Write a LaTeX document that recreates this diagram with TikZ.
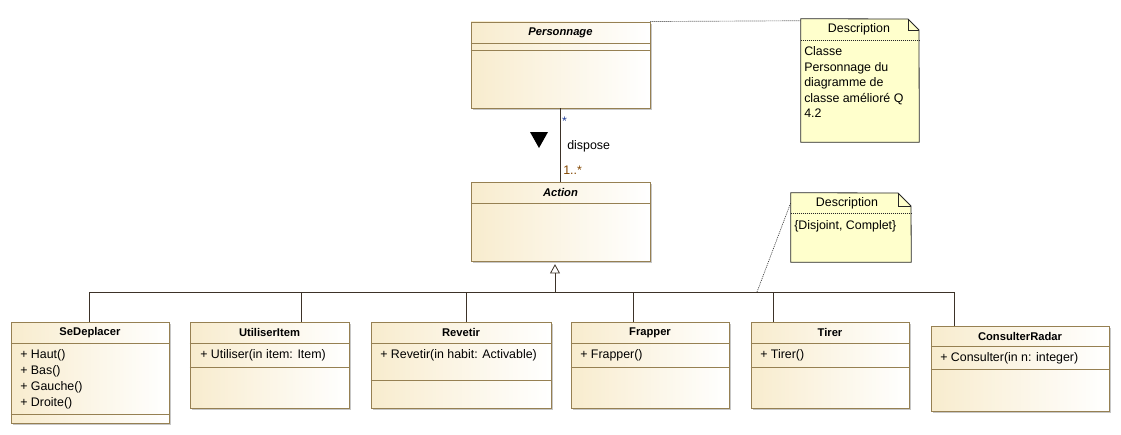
\documentclass[tikz,border=0pt]{standalone}
\usepackage{fontspec}
\setmainfont{Liberation Sans}
\usetikzlibrary{arrows.meta,shadows,positioning,fit}
\definecolor{classborder}{RGB}{150,128,82}
\definecolor{classfill}{RGB}{248,236,206}
\definecolor{notefill}{RGB}{255,255,204}
\definecolor{linecol}{RGB}{60,50,40}
\definecolor{multblue}{RGB}{30,60,150}
\definecolor{multorange}{RGB}{130,70,0}
\tikzset{
  classbox/.style={draw=classborder, line width=0.7pt, left color=classfill, right color=white, inner sep=0pt,
    drop shadow={shadow xshift=1.3pt, shadow yshift=-1.3pt, fill=black!22, opacity=1}},
  sepline/.style={draw=classborder, line width=0.7pt},
  ctitle/.style={font=\fontsize{8.4}{9.6}\selectfont\bfseries, inner sep=0pt},
  optext/.style={font=\fontsize{9.3}{11}\selectfont, inner sep=0pt, anchor=west},
  notebox/.style={inner sep=0pt},
  notedraw/.style={draw=black!85, line width=0.6pt, fill=notefill},
  notesep/.style={draw=black!85, line width=0.5pt, dash pattern=on 0.75pt off 0.75pt},
  notelink/.style={draw=black!80, line width=0.5pt, dash pattern=on 0.75pt off 0.75pt},
  notetext/.style={font=\fontsize{9.3}{11.6}\selectfont, inner sep=0pt, align=left, anchor=north west},
  conn/.style={draw=linecol, line width=0.6pt},
  mult/.style={font=\fontsize{9.3}{11}\selectfont, inner sep=0pt}
}
\begin{document}
\begin{tikzpicture}[x=0.75pt,y=-0.75pt]
\useasboundingbox (0,0) rectangle (1121,435);

% ---------- Personnage ----------
\node[classbox, fit={(471,22)(650,108)}] (pers) {};
\draw[sepline] (pers.west |- 0,43) -- (pers.east |- 0,43);
\draw[sepline] (pers.west |- 0,50) -- (pers.east |- 0,50);
\node[ctitle] (perst) at (560.5,33) {\itshape Personnage};

% ---------- Action ----------
\node[classbox, fit={(471,182)(650,261)}] (act) {};
\draw[sepline] (act.west |- 0,203) -- (act.east |- 0,203);
\node[ctitle] (actt) at (560.5,192.5) {\itshape Action};

% ---------- association ----------
\draw[conn] (pers.south) -- (act.north);
\node[mult, text=multblue] (m1) at (564.5,121) {*};
\node[mult, anchor=west] (disp) at (567,146) {dispose};
\node[mult, anchor=west, text=multorange] (m2) at (563,170) {1..*};
\fill[black] (530,132) -- (548,132) -- (539,148) -- cycle;

% ---------- subclasses ----------
\node[classbox, fit={(11,322)(169,423)}] (sedep) {};
\draw[sepline] (sedep.west |- 0,343) -- (sedep.east |- 0,343);
\draw[sepline] (sedep.west |- 0,414) -- (sedep.east |- 0,414);
\node[ctitle] (sedept) at (90,332.5) {SeDeplacer};
\node[optext] (sedep1) at (20,355) {+ Haut()};
\node[optext] (sedep2) at (20,371) {+ Bas()};
\node[optext] (sedep3) at (20,387) {+ Gauche()};
\node[optext] (sedep4) at (20,403) {+ Droite()};

\node[classbox, fit={(190,322)(349,408)}] (util) {};
\draw[sepline] (util.west |- 0,343) -- (util.east |- 0,343);
\draw[sepline] (util.west |- 0,367) -- (util.east |- 0,367);
\node[ctitle] (utilt) at (269.5,332.5) {UtiliserItem};
\node[optext] (util1) at (200,355) {+ Utiliser(in item: Item)};

\node[classbox, fit={(371,322)(551,408)}] (rev) {};
\draw[sepline] (rev.west |- 0,343) -- (rev.east |- 0,343);
\draw[sepline] (rev.west |- 0,380) -- (rev.east |- 0,380);
\node[ctitle] (revt) at (461,332.5) {Revetir};
\node[optext] (rev1) at (380,355) {+ Revetir(in habit: Activable)};

\node[classbox, fit={(571,322)(729,408)}] (frap) {};
\draw[sepline] (frap.west |- 0,343) -- (frap.east |- 0,343);
\draw[sepline] (frap.west |- 0,367) -- (frap.east |- 0,367);
\node[ctitle] (frapt) at (650,332.5) {Frapper};
\node[optext] (frap1) at (580,355) {+ Frapper()};

\node[classbox, fit={(751,322)(909,408)}] (tir) {};
\draw[sepline] (tir.west |- 0,343) -- (tir.east |- 0,343);
\draw[sepline] (tir.west |- 0,367) -- (tir.east |- 0,367);
\node[ctitle] (tirt) at (830,332.5) {Tirer};
\node[optext] (tir1) at (760,355) {+ Tirer()};

\node[classbox, fit={(931,326)(1109,411)}] (cons) {};
\draw[sepline] (cons.west |- 0,346) -- (cons.east |- 0,346);
\draw[sepline] (cons.west |- 0,369) -- (cons.east |- 0,369);
\node[ctitle] (const) at (1020,336) {ConsulterRadar};
\node[optext] (cons1) at (940,358.5) {+ Consulter(in n: integer)};

% ---------- generalization ----------
\coordinate (bus) at (555,292);
\draw[conn] (89,0 |- sedep.north) |- (bus);
\draw[conn] (301,0 |- util.north) |- (bus);
\draw[conn] (466,0 |- rev.north) |- (bus);
\draw[conn] (633,0 |- frap.north) |- (bus);
\draw[conn] (773,0 |- tir.north) |- (bus);
\draw[conn] (954,0 |- cons.north) |- (bus);
\draw[conn, -{Triangle[open, length=7pt, width=7.5pt, line width=0.6pt]}, shorten >=2pt] (bus) -- (act.south -| bus);

% ---------- note 1 ----------
\node[notebox, fit={(801,19)(919,142)}] (n1) {};
\draw[notedraw] (n1.north west) -- (908,19) -- (919,30) -- (n1.south east) -- (n1.south west) -- cycle;
\draw[draw=black!85, line width=0.6pt] (908,19) -- (908,30) -- (919,30);
\draw[notesep] (n1.west |- 0,40) -- (n1.east |- 0,40);
\node[mult] (n1t) at (859,29.5) {Description};
\node[notetext] (n1b) at (804,46.5) {Classe\\Personnage du\\diagramme de\\classe amélioré Q\\4.2};
\draw[notelink] (pers.north east) -- ([yshift=-1.5pt]n1.north west);

% ---------- note 2 ----------
\node[notebox, fit={(791,193)(911,262)}] (n2) {};
\draw[notedraw] (n2.north west) -- (898,193) -- (911,206) -- (n2.south east) -- (n2.south west) -- cycle;
\draw[draw=black!85, line width=0.6pt] (898,193) -- (898,206) -- (911,206);
\draw[notesep] (n2.west |- 0,213) -- (n2.east |- 0,213);
\node[mult] (n2t) at (847,203) {Description};
\node[notetext] (n2b) at (794,220.5) {\{Disjoint, Complet\}};
\coordinate (n2link) at (757,292);
\draw[notelink] (n2link) -- ([yshift=-7.5pt]n2.north west);
\end{tikzpicture}
\end{document}
